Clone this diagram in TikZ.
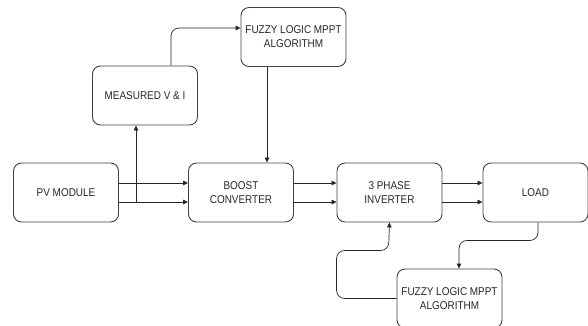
\documentclass[tikz,border=0pt]{standalone}
\usepackage{fontspec}
\setmainfont{Liberation Sans}[FakeStretch=0.88]
\usepackage{tikz}
\usetikzlibrary{arrows.meta}
\tikzstyle{block} = [rectangle, rounded corners=8pt, minimum width=105pt, minimum height=59pt, inner sep=1pt, align=center, draw=black!75, line width=0.9pt, text=black!85, font=\fontsize{11.3}{14}\selectfont]
\tikzstyle{arrow} = [line width=0.7pt, draw=black!85, ->, >={Triangle[length=5pt,width=4.5pt]}]

\begin{document}
\begin{tikzpicture}[node distance=147pt]
\useasboundingbox (0,0) rectangle (588pt,-325pt);
\node (pv) [block] at (66pt,-192.5pt) {PV MODULE};
\node (boost) [block, right of=pv, xshift=28pt] {BOOST\\CONVERTER};
\node (inv) [block, right of=boost, xshift=1.5pt] {3 PHASE\\INVERTER};
\node (load) [block, right of=inv, xshift=-1pt] {LOAD};
\node (meas) [block, above of=pv, node distance=97pt, xshift=79pt] {MEASURED V \& I};
\node (fz1) [block, above of=boost, node distance=155.5pt, xshift=52.5pt] {FUZZY LOGIC MPPT\\ALGORITHM};
\node (fz2) [block, below of=inv, node distance=106pt, xshift=60pt] {FUZZY LOGIC MPPT\\ALGORITHM};
\coordinate (tap) at ([xshift=70pt,yshift=-9.5pt]pv.center);

\draw [arrow]([yshift=9.5pt]pv.east) -- ([yshift=9.5pt]boost.west);
\draw [arrow]([yshift=-9.5pt]pv.east) -- ([yshift=-9.5pt]boost.west);
\draw [arrow](tap) -- (tap |- meas.south);
\draw [arrow, rounded corners=8pt]([xshift=26pt]meas.north) |- ([yshift=9pt]fz1.west);
\draw [arrow]([xshift=-26.5pt]fz1.south) -- ([xshift=26pt]boost.north);
\draw [arrow]([yshift=9.5pt]boost.east) -- ([yshift=9.5pt]inv.west);
\draw [arrow]([yshift=-9.5pt]boost.east) -- ([yshift=-9.5pt]inv.west);
\draw [arrow]([yshift=9.5pt]inv.east) -- ([yshift=9.5pt]load.west);
\draw [arrow]([yshift=-9.5pt]inv.east) -- ([yshift=-9.5pt]load.west);
\draw [arrow, rounded corners=8pt]([xshift=2.5pt]load.south) -- ++(0,-18pt) -| ([xshift=9.5pt]fz2.north);
\draw [arrow, rounded corners=8pt](fz2.west) -- ++(-60pt,0) -- ++(0,48pt) -- ++(52pt,0) -- (inv.south);
\end{tikzpicture}
\end{document}
